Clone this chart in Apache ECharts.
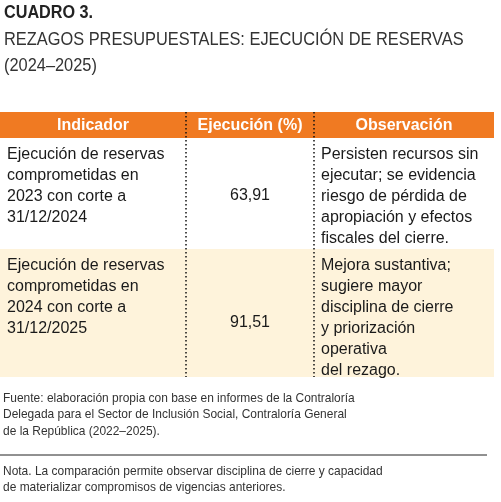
<!DOCTYPE html>
<html><head><meta charset="utf-8">
<script src="https://cdn.jsdelivr.net/npm/echarts@6/dist/echarts.min.js"></script>
<style>html,body{margin:0;padding:0;background:#fff}#c{width:501px;height:502px}</style>
</head><body><div id="c"></div>
<script>
const titleLines = ["CUADRO 3.", "REZAGOS PRESUPUESTALES: EJECUCIÓN DE RESERVAS", "(2024–2025)"];
const headers = ["Indicador", "Ejecución (%)", "Observación"];
const indicators = [
  ["Ejecución de reservas", "comprometidas en", "2023 con corte a", "31/12/2024"],
  ["Ejecución de reservas", "comprometidas en", "2024 con corte a", "31/12/2025"]
];
const values = ["63,91", "91,51"];
const observations = [
  ["Persisten recursos sin", "ejecutar; se evidencia", "riesgo de pérdida de", "apropiación y efectos", "fiscales del cierre."],
  ["Mejora sustantiva;", "sugiere mayor", "disciplina de cierre", "y priorización", "operativa", "del rezago."]
];
const sourceLines = ["Fuente: elaboración propia con base en informes de la Contraloría", "Delegada para el Sector de Inclusión Social, Contraloría General", "de la República (2022–2025)."];
const noteLines = ["Nota. La comparación permite observar disciplina de cierre y capacidad", "de materializar compromisos de vigencias anteriores."];

const F = "'Liberation Sans', Arial, sans-serif";
const colX = [0, 186, 314, 494];
const headY = [112, 138];
const rowY = [[138, 249], [249, 377]];
const lh = 21;
const g = [];
const txt = (x, y, s, o, sx) => g.push({type:'text', x, y, scaleX: sx||1, style:Object.assign({text:s, font:'16px '+F, fill:'#1a1a1a', textVerticalAlign:'middle'}, o||{})});

txt(4, 13, titleLines[0], {font:'bold 18px '+F, fill:'#222'}, 0.9);
txt(4, 40, titleLines[1], {font:'18px '+F, fill:'#333'}, 0.91);
txt(4, 66, titleLines[2], {font:'18px '+F, fill:'#333'}, 0.91);

g.push({type:'rect', shape:{x:0,y:headY[0],width:494,height:headY[1]-headY[0]}, style:{fill:'#F07A22'}});
g.push({type:'rect', shape:{x:0,y:rowY[1][0],width:494,height:rowY[1][1]-rowY[1][0]}, style:{fill:'#FEF3DB'}});
headers.forEach((h,i)=>txt((colX[i]+colX[i+1])/2, 126, h, {font:'bold 16px '+F, fill:'#fff', textAlign:'center'}));
[1,2].forEach(i=>g.push({type:'line', shape:{x1:colX[i],y1:headY[0],x2:colX[i],y2:rowY[1][1]}, style:{stroke:'#111', lineWidth:1.5, lineDash:[1.5,2.5]}}));

indicators.forEach((lines,r)=>{
  const y0 = rowY[r][0] + 17;
  lines.forEach((s,k)=>txt(7, y0 + k*lh, s));
  observations[r].forEach((s,k)=>txt(321, y0 + k*lh, s));
  const ymid = r===0 ? 196 : 323;
  txt((colX[1]+colX[2])/2, ymid, values[r], {textAlign:'center'});
});

sourceLines.forEach((s,k)=>txt(3, 398 + k*16.5, s, {font:'13px '+F, fill:'#333'}, 0.92));
g.push({type:'line', shape:{x1:0,y1:455,x2:487,y2:455}, style:{stroke:'#222', lineWidth:1}});
noteLines.forEach((s,k)=>txt(3, 471 + k*16.5, s, {font:'13px '+F, fill:'#333'}, 0.92));

const chart = echarts.init(document.getElementById('c'), null, {renderer:'canvas'});
chart.setOption({animation:false, graphic:{elements:g}});
</script></body></html>
